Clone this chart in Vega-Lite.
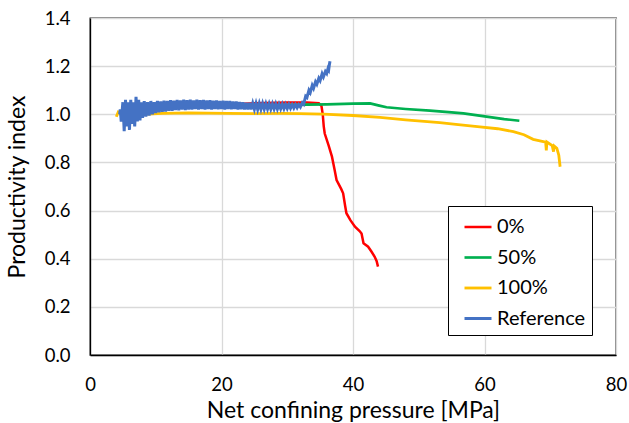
{
  "$schema": "https://vega.github.io/schema/vega-lite/v6.json",
  "width": 526,
  "height": 337,
  "autosize": "none",
  "padding": {"left": 90, "top": 18, "right": 13, "bottom": 68},
  "background": "white",
  "config": {
    "font": "Lato",
    "view": {"stroke": "#000000", "strokeWidth": 1.3},
    "axis": {
      "gridColor": "#d9d9d9",
      "gridWidth": 1.3,
      "ticks": false,
      "domainColor": "#000000",
      "domainWidth": 1.3,
      "labelFont": "Lato",
      "labelFontSize": 18.5,
      "labelColor": "#000000",
      "titleFont": "Lato",
      "titleFontSize": 23,
      "titleFontWeight": "normal",
      "titleColor": "#000000"
    }
  },
  "data": {
    "values": [
      {"s": "0%", "x": 4.5, "y": 1.0},
      {"s": "0%", "x": 5.0, "y": 1.01},
      {"s": "0%", "x": 8.0, "y": 1.02},
      {"s": "0%", "x": 12.0, "y": 1.03},
      {"s": "0%", "x": 16.0, "y": 1.035},
      {"s": "0%", "x": 20.0, "y": 1.04},
      {"s": "0%", "x": 25.0, "y": 1.046},
      {"s": "0%", "x": 30.0, "y": 1.049},
      {"s": "0%", "x": 33.0, "y": 1.049},
      {"s": "0%", "x": 34.8, "y": 1.046},
      {"s": "0%", "x": 35.2, "y": 1.035},
      {"s": "0%", "x": 35.4, "y": 1.0},
      {"s": "0%", "x": 35.55, "y": 0.95},
      {"s": "0%", "x": 35.7, "y": 0.92},
      {"s": "0%", "x": 36.3, "y": 0.87},
      {"s": "0%", "x": 36.8, "y": 0.824},
      {"s": "0%", "x": 37.2, "y": 0.77},
      {"s": "0%", "x": 37.5, "y": 0.727},
      {"s": "0%", "x": 38.2, "y": 0.69},
      {"s": "0%", "x": 38.5, "y": 0.672},
      {"s": "0%", "x": 38.8, "y": 0.62},
      {"s": "0%", "x": 39.0, "y": 0.589},
      {"s": "0%", "x": 39.6, "y": 0.56},
      {"s": "0%", "x": 40.3, "y": 0.533},
      {"s": "0%", "x": 41.0, "y": 0.515},
      {"s": "0%", "x": 41.3, "y": 0.505},
      {"s": "0%", "x": 41.6, "y": 0.464},
      {"s": "0%", "x": 42.3, "y": 0.45},
      {"s": "0%", "x": 42.8, "y": 0.43},
      {"s": "0%", "x": 43.3, "y": 0.408},
      {"s": "0%", "x": 43.6, "y": 0.39},
      {"s": "0%", "x": 43.8, "y": 0.367},

      {"s": "50%", "x": 4.5, "y": 1.0},
      {"s": "50%", "x": 8.0, "y": 1.02},
      {"s": "50%", "x": 15.0, "y": 1.03},
      {"s": "50%", "x": 25.0, "y": 1.035},
      {"s": "50%", "x": 30.0, "y": 1.038},
      {"s": "50%", "x": 33.0, "y": 1.04},
      {"s": "50%", "x": 36.0, "y": 1.041},
      {"s": "50%", "x": 40.0, "y": 1.044},
      {"s": "50%", "x": 42.6, "y": 1.045},
      {"s": "50%", "x": 44.0, "y": 1.036},
      {"s": "50%", "x": 45.1, "y": 1.029},
      {"s": "50%", "x": 48.0, "y": 1.022},
      {"s": "50%", "x": 51.7, "y": 1.015},
      {"s": "50%", "x": 55.0, "y": 1.008},
      {"s": "50%", "x": 56.8, "y": 1.004},
      {"s": "50%", "x": 60.3, "y": 0.99},
      {"s": "50%", "x": 63.0, "y": 0.98},
      {"s": "50%", "x": 65.3, "y": 0.973},

      {"s": "100%", "x": 4.0, "y": 0.99},
      {"s": "100%", "x": 4.3, "y": 1.01},
      {"s": "100%", "x": 5.0, "y": 1.0},
      {"s": "100%", "x": 8.0, "y": 1.0},
      {"s": "100%", "x": 11.0, "y": 1.004},
      {"s": "100%", "x": 15.0, "y": 1.006},
      {"s": "100%", "x": 21.0, "y": 1.004},
      {"s": "100%", "x": 25.0, "y": 1.003},
      {"s": "100%", "x": 29.0, "y": 1.004},
      {"s": "100%", "x": 32.0, "y": 1.003},
      {"s": "100%", "x": 35.5, "y": 1.001},
      {"s": "100%", "x": 40.0, "y": 0.995},
      {"s": "100%", "x": 44.1, "y": 0.987},
      {"s": "100%", "x": 48.0, "y": 0.977},
      {"s": "100%", "x": 53.2, "y": 0.965},
      {"s": "100%", "x": 56.0, "y": 0.957},
      {"s": "100%", "x": 59.3, "y": 0.948},
      {"s": "100%", "x": 62.0, "y": 0.94},
      {"s": "100%", "x": 64.4, "y": 0.928},
      {"s": "100%", "x": 66.0, "y": 0.915},
      {"s": "100%", "x": 67.4, "y": 0.896},
      {"s": "100%", "x": 69.3, "y": 0.884},
      {"s": "100%", "x": 69.4, "y": 0.85},
      {"s": "100%", "x": 69.5, "y": 0.885},
      {"s": "100%", "x": 70.3, "y": 0.87},
      {"s": "100%", "x": 70.5, "y": 0.845},
      {"s": "100%", "x": 70.6, "y": 0.868},
      {"s": "100%", "x": 71.0, "y": 0.859},
      {"s": "100%", "x": 71.3, "y": 0.83},
      {"s": "100%", "x": 71.5, "y": 0.782},

      {"s": "Reference", "x": 4.5, "y": 1.0},
      {"s": "Reference", "x": 4.6, "y": 1.02},
      {"s": "Reference", "x": 4.75, "y": 0.97},
      {"s": "Reference", "x": 5.0, "y": 1.05},
      {"s": "Reference", "x": 5.2, "y": 0.93},
      {"s": "Reference", "x": 5.4, "y": 1.06},
      {"s": "Reference", "x": 5.6, "y": 0.95},
      {"s": "Reference", "x": 5.8, "y": 1.05},
      {"s": "Reference", "x": 6.0, "y": 0.935},
      {"s": "Reference", "x": 6.2, "y": 1.06},
      {"s": "Reference", "x": 6.4, "y": 0.96},
      {"s": "Reference", "x": 6.6, "y": 1.05},
      {"s": "Reference", "x": 6.8, "y": 0.95},
      {"s": "Reference", "x": 7.0, "y": 1.073},
      {"s": "Reference", "x": 7.2, "y": 0.97},
      {"s": "Reference", "x": 7.4, "y": 1.06},
      {"s": "Reference", "x": 7.6, "y": 0.975},
      {"s": "Reference", "x": 7.8, "y": 1.05},
      {"s": "Reference", "x": 8.0, "y": 0.985},
      {"s": "Reference", "x": 8.25, "y": 1.055},
      {"s": "Reference", "x": 8.5, "y": 0.99},
      {"s": "Reference", "x": 8.75, "y": 1.05},
      {"s": "Reference", "x": 9.0, "y": 0.995},
      {"s": "Reference", "x": 9.25, "y": 1.055},
      {"s": "Reference", "x": 9.5, "y": 1.0},
      {"s": "Reference", "x": 9.75, "y": 1.05},
      {"s": "Reference", "x": 10.0, "y": 1.005},
      {"s": "Reference", "x": 10.25, "y": 1.055},
      {"s": "Reference", "x": 10.5, "y": 1.008},
      {"s": "Reference", "x": 10.75, "y": 1.053},
      {"s": "Reference", "x": 11.0, "y": 1.01},
      {"s": "Reference", "x": 11.25, "y": 1.056},
      {"s": "Reference", "x": 11.5, "y": 1.012},
      {"s": "Reference", "x": 11.75, "y": 1.055},
      {"s": "Reference", "x": 12.0, "y": 1.015},
      {"s": "Reference", "x": 12.25, "y": 1.058},
      {"s": "Reference", "x": 12.5, "y": 1.015},
      {"s": "Reference", "x": 12.75, "y": 1.056},
      {"s": "Reference", "x": 13.0, "y": 1.018},
      {"s": "Reference", "x": 13.25, "y": 1.059},
      {"s": "Reference", "x": 13.5, "y": 1.017},
      {"s": "Reference", "x": 13.75, "y": 1.057},
      {"s": "Reference", "x": 14.0, "y": 1.02},
      {"s": "Reference", "x": 14.25, "y": 1.06},
      {"s": "Reference", "x": 14.5, "y": 1.018},
      {"s": "Reference", "x": 14.75, "y": 1.058},
      {"s": "Reference", "x": 15.0, "y": 1.02},
      {"s": "Reference", "x": 15.25, "y": 1.06},
      {"s": "Reference", "x": 15.5, "y": 1.02},
      {"s": "Reference", "x": 15.75, "y": 1.057},
      {"s": "Reference", "x": 16.0, "y": 1.022},
      {"s": "Reference", "x": 16.25, "y": 1.06},
      {"s": "Reference", "x": 16.5, "y": 1.02},
      {"s": "Reference", "x": 16.75, "y": 1.058},
      {"s": "Reference", "x": 17.0, "y": 1.022},
      {"s": "Reference", "x": 17.25, "y": 1.059},
      {"s": "Reference", "x": 17.5, "y": 1.02},
      {"s": "Reference", "x": 17.75, "y": 1.057},
      {"s": "Reference", "x": 18.0, "y": 1.022},
      {"s": "Reference", "x": 18.25, "y": 1.058},
      {"s": "Reference", "x": 18.5, "y": 1.02},
      {"s": "Reference", "x": 18.75, "y": 1.056},
      {"s": "Reference", "x": 19.0, "y": 1.022},
      {"s": "Reference", "x": 19.25, "y": 1.057},
      {"s": "Reference", "x": 19.5, "y": 1.021},
      {"s": "Reference", "x": 19.75, "y": 1.055},
      {"s": "Reference", "x": 20.0, "y": 1.022},
      {"s": "Reference", "x": 20.25, "y": 1.056},
      {"s": "Reference", "x": 20.5, "y": 1.02},
      {"s": "Reference", "x": 20.75, "y": 1.055},
      {"s": "Reference", "x": 21.0, "y": 1.022},
      {"s": "Reference", "x": 21.25, "y": 1.055},
      {"s": "Reference", "x": 21.5, "y": 1.021},
      {"s": "Reference", "x": 21.75, "y": 1.053},
      {"s": "Reference", "x": 22.0, "y": 1.022},
      {"s": "Reference", "x": 22.25, "y": 1.053},
      {"s": "Reference", "x": 22.5, "y": 1.02},
      {"s": "Reference", "x": 22.75, "y": 1.051},
      {"s": "Reference", "x": 23.0, "y": 1.021},
      {"s": "Reference", "x": 23.25, "y": 1.05},
      {"s": "Reference", "x": 23.5, "y": 1.02},
      {"s": "Reference", "x": 23.75, "y": 1.048},
      {"s": "Reference", "x": 24.0, "y": 1.02},
      {"s": "Reference", "x": 24.25, "y": 1.047},
      {"s": "Reference", "x": 24.5, "y": 1.02},
      {"s": "Reference", "x": 24.75, "y": 1.046},
      {"s": "Reference", "x": 25.0, "y": 1.021},
      {"s": "Reference", "x": 25.25, "y": 1.046},
      {"s": "Reference", "x": 25.5, "y": 1.02},
      {"s": "Reference", "x": 25.75, "y": 1.045},
      {"s": "Reference", "x": 26.0, "y": 1.021},
      {"s": "Reference", "x": 26.25, "y": 1.045},
      {"s": "Reference", "x": 26.5, "y": 1.021},
      {"s": "Reference", "x": 26.75, "y": 1.044},
      {"s": "Reference", "x": 27.0, "y": 1.022},
      {"s": "Reference", "x": 27.25, "y": 1.044},
      {"s": "Reference", "x": 27.5, "y": 1.022},
      {"s": "Reference", "x": 27.75, "y": 1.043},
      {"s": "Reference", "x": 28.0, "y": 1.022},
      {"s": "Reference", "x": 28.25, "y": 1.043},
      {"s": "Reference", "x": 28.5, "y": 1.022},
      {"s": "Reference", "x": 28.75, "y": 1.042},
      {"s": "Reference", "x": 29.0, "y": 1.023},
      {"s": "Reference", "x": 29.25, "y": 1.042},
      {"s": "Reference", "x": 29.5, "y": 1.023},
      {"s": "Reference", "x": 29.75, "y": 1.041},
      {"s": "Reference", "x": 30.0, "y": 1.024},
      {"s": "Reference", "x": 30.25, "y": 1.041},
      {"s": "Reference", "x": 30.5, "y": 1.025},
      {"s": "Reference", "x": 30.75, "y": 1.04},
      {"s": "Reference", "x": 31.0, "y": 1.026},
      {"s": "Reference", "x": 31.25, "y": 1.04},
      {"s": "Reference", "x": 31.5, "y": 1.027},
      {"s": "Reference", "x": 31.75, "y": 1.04},
      {"s": "Reference", "x": 32.0, "y": 1.03},
      {"s": "Reference", "x": 32.3, "y": 1.048},
      {"s": "Reference", "x": 32.5, "y": 1.042},
      {"s": "Reference", "x": 32.8, "y": 1.075},
      {"s": "Reference", "x": 33.0, "y": 1.07},
      {"s": "Reference", "x": 33.3, "y": 1.1},
      {"s": "Reference", "x": 33.5, "y": 1.09},
      {"s": "Reference", "x": 33.8, "y": 1.12},
      {"s": "Reference", "x": 34.0, "y": 1.108},
      {"s": "Reference", "x": 34.3, "y": 1.135},
      {"s": "Reference", "x": 34.5, "y": 1.125},
      {"s": "Reference", "x": 34.8, "y": 1.15},
      {"s": "Reference", "x": 35.0, "y": 1.14},
      {"s": "Reference", "x": 35.3, "y": 1.168},
      {"s": "Reference", "x": 35.5, "y": 1.155},
      {"s": "Reference", "x": 35.8, "y": 1.178},
      {"s": "Reference", "x": 36.0, "y": 1.17},
      {"s": "Reference", "x": 36.2, "y": 1.19},
      {"s": "Reference", "x": 36.3, "y": 1.185},
      {"s": "Reference", "x": 36.4, "y": 1.205},
      {"s": "Reference", "x": 36.5, "y": 1.22}
    ]
  },
  "mark": {"type": "line", "clip": true},
  "encoding": {
    "x": {
      "field": "x",
      "type": "quantitative",
      "scale": {"domain": [0, 80], "nice": false, "zero": false},
      "axis": {"values": [0, 20, 40, 60, 80], "title": "Net confining pressure [MPa]", "labelPadding": 20, "titlePadding": 6, "labelFlush": false}
    },
    "y": {
      "field": "y",
      "type": "quantitative",
      "scale": {"domain": [0, 1.4], "nice": false},
      "axis": {"values": [0, 0.2, 0.4, 0.6, 0.8, 1.0, 1.2, 1.4], "format": ".1f", "title": "Productivity index", "labelPadding": 20, "titlePadding": 15}
    },
    "strokeWidth": {
      "field": "s",
      "type": "nominal",
      "scale": {"domain": ["0%", "50%", "100%", "Reference"], "range": [2.5, 3, 3, 3.5]},
      "legend": null
    },
    "color": {
      "field": "s",
      "type": "nominal",
      "sort": ["0%", "50%", "100%", "Reference"],
      "scale": {"domain": ["0%", "50%", "100%", "Reference"], "range": ["#FF0000", "#00B050", "#FFC000", "#4472C4"]},
      "legend": {
        "title": null,
        "orient": "none",
        "legendX": 358,
        "legendY": 188,
        "symbolType": "stroke",
        "symbolSize": 729,
        "symbolStrokeWidth": 2.5,
        "symbolOffset": 9,
        "labelFont": "Lato",
        "labelFontSize": 20,
        "labelColor": "#000000",
        "labelOffset": 4,
        "rowPadding": 5.5,
        "padding": 6,
        "strokeColor": "#000000",
        "fillColor": "#ffffff"
      }
    }
  }
}
